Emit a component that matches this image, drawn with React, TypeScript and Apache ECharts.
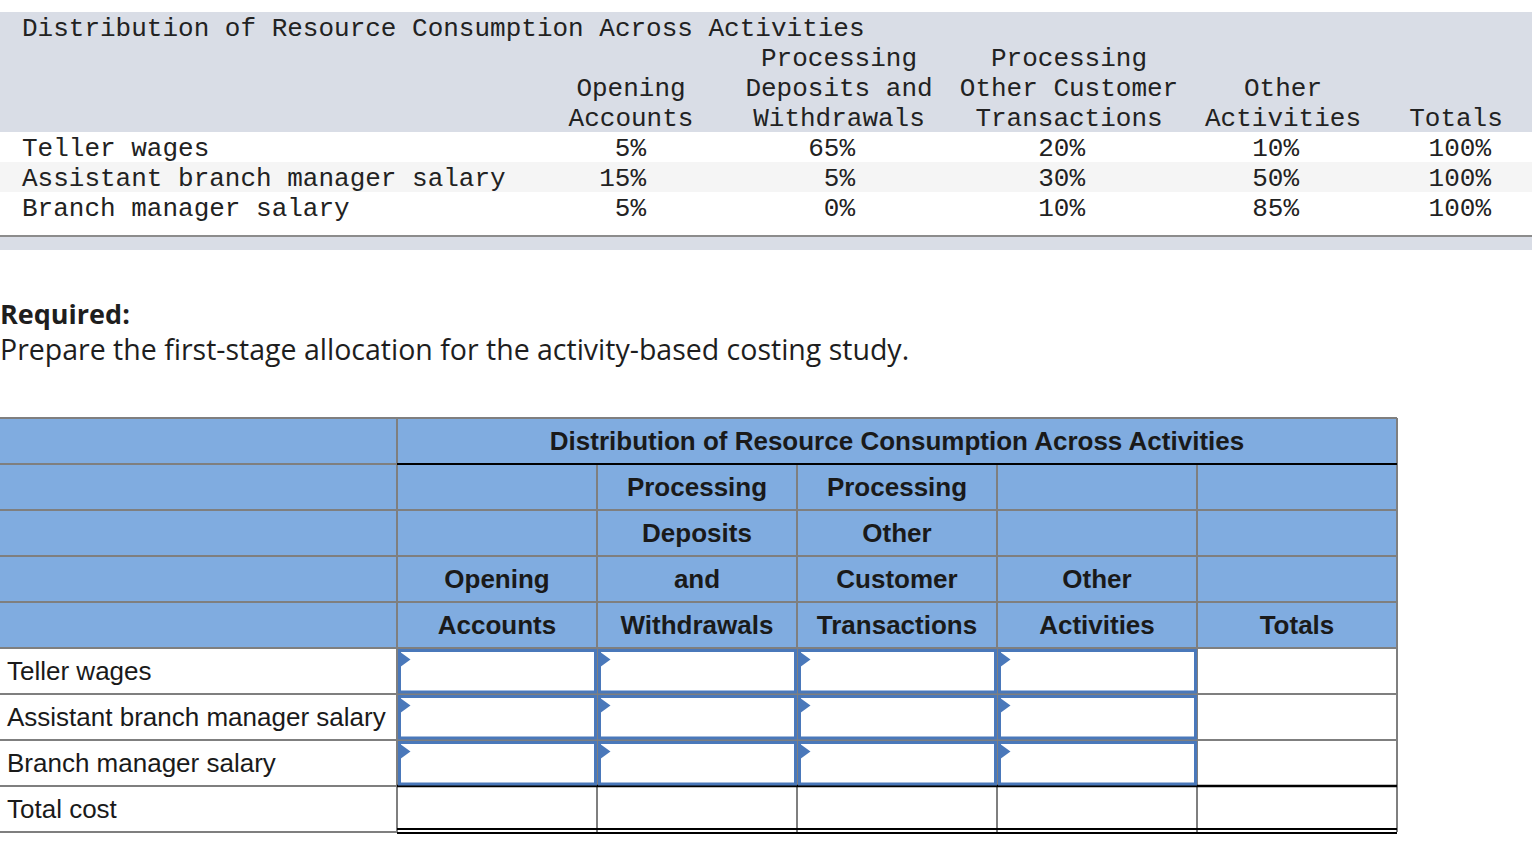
import React, { useEffect, useRef } from "react";
import * as echarts from "echarts";

// ---------- data ----------
const topTitle = "Distribution of Resource Consumption Across Activities";
const topHeaderLines = [
  ["", "Processing", "Processing", "", ""],
  ["Opening", "Deposits and", "Other Customer", "Other", ""],
  ["Accounts", "Withdrawals", "Transactions", "Activities", "Totals"],
];
const costPools = ["Teller wages", "Assistant branch manager salary", "Branch manager salary"];
const openingAccounts = [5, 15, 5];
const depositsWithdrawals = [65, 5, 0];
const otherCustomerTransactions = [20, 30, 10];
const otherActivities = [10, 50, 85];
const totals = [100, 100, 100];
const requiredLabel = "Required:";
const requiredText = "Prepare the first-stage allocation for the activity-based costing study.";
const answerTitle = "Distribution of Resource Consumption Across Activities";
const answerHeaderLines = [
  ["", "Processing", "Processing", "", ""],
  ["", "Deposits", "Other", "", ""],
  ["Opening", "and", "Customer", "Other", ""],
  ["Accounts", "Withdrawals", "Transactions", "Activities", "Totals"],
];
const answerRows = [...costPools, "Total cost"];

// ---------- layout ----------
const MONO = '"Liberation Mono", "Courier New", monospace';
const SANS = '"Liberation Sans", Arial, Helvetica, sans-serif';
const PROSE = '"Open Sans", Lato, sans-serif';
const topHeaderX = [631, 839, 1069, 1283, 1456];
const topValueRight = [646, 855, 1085, 1299, 1491];
const colX = [0, 397, 597, 797, 997, 1197, 1397];
const tableTop = 418;
const rowH = 46;
const GRAY = "#7f7f7f";
const BLUE_HDR = "#80ace0";
const INPUT_BLUE = "#4a78ba";

function txt(text: string, x: number, y: number, font: string, align = "left", fill = "#222") {
  return {
    type: "text",
    silent: true,
    style: {
      text,
      x,
      y,
      font,
      fill,
      align,
      textAlign: align,
      verticalAlign: "middle",
      textVerticalAlign: "middle",
    },
  };
}
function rect(x: number, y: number, w: number, h: number, fill: string, stroke?: string, lw = 0) {
  return {
    type: "rect",
    silent: true,
    shape: { x, y, width: w, height: h },
    style: stroke ? { fill, stroke, lineWidth: lw } : { fill },
  };
}
function line(x1: number, y1: number, x2: number, y2: number, stroke: string, lw = 2) {
  return {
    type: "line",
    silent: true,
    shape: { x1, y1, x2, y2 },
    style: { stroke, lineWidth: lw },
  };
}

function buildGraphics() {
  const g: any[] = [];
  // ----- top given table -----
  g.push(rect(0, 12, 1532, 120, "#d9dde6"));
  g.push(rect(0, 162, 1532, 30, "#f5f5f5"));
  g.push(line(0, 236, 1532, 236, "#8c8c8c", 2));
  g.push(rect(0, 237, 1532, 13, "#d9dde6"));
  const monoFont = `26px ${MONO}`;
  g.push(txt(topTitle, 22, 29, monoFont));
  topHeaderLines.forEach((ln, i) => {
    ln.forEach((s, c) => {
      if (s) g.push(txt(s, topHeaderX[c], 59 + i * 30, monoFont, "center"));
    });
  });
  const cols = [openingAccounts, depositsWithdrawals, otherCustomerTransactions, otherActivities, totals];
  costPools.forEach((name, r) => {
    const y = 149 + r * 30;
    g.push(txt(name, 22, y, monoFont));
    cols.forEach((arr, c) => {
      g.push(txt(`${arr[r]}%`, topValueRight[c], y, monoFont, "right"));
    });
  });

  // ----- required text -----
  g.push(txt(requiredLabel, 0, 313, `bold 27px ${PROSE}`, "left", "#1e1e1e"));
  g.push(txt(requiredText, 0, 349, `28.5px ${PROSE}`, "left", "#1e1e1e"));

  // ----- answer table -----
  const rowY = (i: number) => tableTop + i * rowH;
  const hdrBottom = rowY(5);
  const bottom = rowY(9);
  g.push(rect(0, tableTop, colX[6], hdrBottom - tableTop, BLUE_HDR));
  g.push(rect(0, hdrBottom, colX[6], bottom - hdrBottom, "#ffffff"));

  // horizontal lines
  g.push(line(0, tableTop, colX[6], tableTop, GRAY));
  g.push(line(0, rowY(1), colX[1], rowY(1), GRAY));
  for (let i = 2; i <= 7; i++) g.push(line(0, rowY(i), colX[6], rowY(i), GRAY));
  g.push(line(0, rowY(8), colX[1], rowY(8), GRAY));
  g.push(line(0, bottom, colX[1], bottom, GRAY));
  // vertical lines
  g.push(line(colX[1], tableTop, colX[1], bottom, GRAY));
  for (let c = 2; c <= 5; c++) g.push(line(colX[c], rowY(1), colX[c], bottom, GRAY));
  g.push(line(colX[6], tableTop, colX[6], bottom, GRAY));
  // black lines
  g.push(line(colX[1], rowY(1), colX[6], rowY(1), "#000", 2));
  g.push(line(colX[1], rowY(8), colX[6], rowY(8), "#000", 2.5));
  g.push(line(colX[1], bottom - 3, colX[6], bottom - 3, "#000", 2));
  g.push(line(colX[1], bottom + 1, colX[6], bottom + 1, "#000", 2));

  // header texts
  const boldFont = `bold 26px ${SANS}`;
  g.push(txt(answerTitle, (colX[1] + colX[6]) / 2, rowY(0) + 23, boldFont, "center", "#1a1a1a"));
  answerHeaderLines.forEach((ln, i) => {
    ln.forEach((s, c) => {
      if (s) g.push(txt(s, (colX[c + 1] + colX[c + 2]) / 2, rowY(i + 1) + 23, boldFont, "center", "#1a1a1a"));
    });
  });

  // row labels and input cells
  answerRows.forEach((name, r) => {
    const y0 = rowY(5 + r);
    g.push(txt(name, 7, y0 + 23, `26px ${SANS}`, "left", "#1a1a1a"));
    if (r < costPools.length) {
      for (let c = 1; c <= 4; c++) {
        const x0 = colX[c] + 2.5;
        const yy = y0 + 2.5;
        g.push(rect(x0, yy, 196, 41.5, "#ffffff", INPUT_BLUE, 3));
        g.push({
          type: "polygon",
          silent: true,
          shape: { points: [[x0, yy + 1], [x0, yy + 17], [x0 + 11, yy + 9]] },
          style: { fill: INPUT_BLUE },
        });
      }
    }
  });
  return g;
}

export default function App() {
  const ref = useRef<HTMLDivElement>(null);
  useEffect(() => {
    if (!ref.current) return;
    const chart = echarts.init(ref.current, undefined, { renderer: "svg" });
    chart.setOption({
      animation: false,
      backgroundColor: "#ffffff",
      graphic: { elements: buildGraphics() },
    });
    return () => chart.dispose();
  }, []);
  return (
    <div
      ref={ref}
      style={{ position: "absolute", left: 0, top: 0, width: 1538, height: 850, background: "#fff" }}
    />
  );
}
